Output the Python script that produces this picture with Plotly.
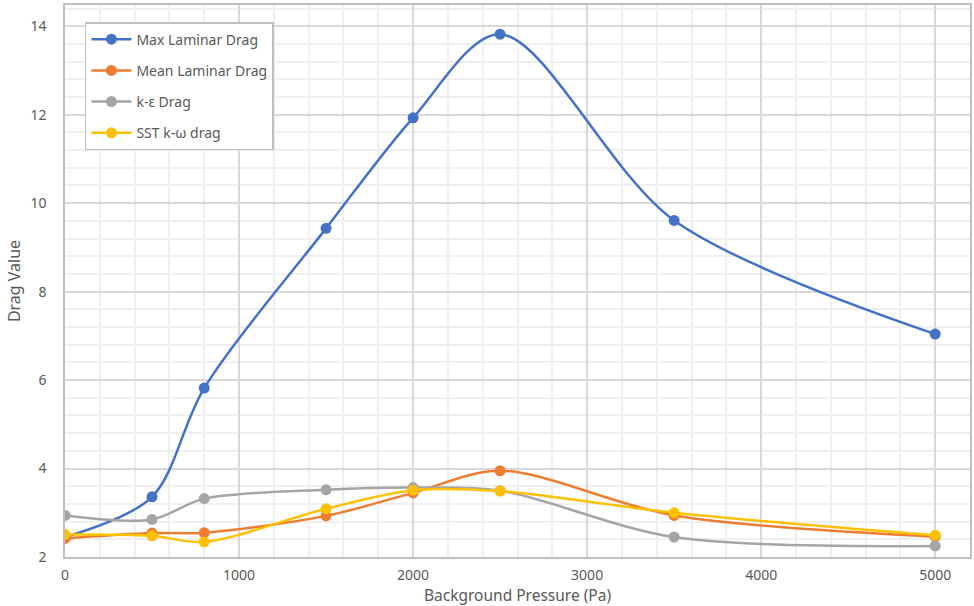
import plotly.graph_objects as go

pressure = [0, 500, 800, 1500, 2000, 2500, 3500, 5000]
max_laminar = [2.45, 3.36, 5.82, 9.43, 11.93, 13.82, 9.61, 7.04]
mean_laminar = [2.42, 2.54, 2.55, 2.93, 3.45, 3.95, 2.94, 2.46]
k_eps = [2.94, 2.85, 3.32, 3.52, 3.57, 3.50, 2.45, 2.25]
sst_kw = [2.51, 2.48, 2.34, 3.09, 3.51, 3.49, 3.00, 2.49]

series = [
    ("Max Laminar Drag", max_laminar, "#4472C4"),
    ("Mean Laminar Drag", mean_laminar, "#ED7D31"),
    ("k-ε Drag", k_eps, "#A5A5A5"),
    ("SST k-ω drag", sst_kw, "#FFC000"),
]

fig = go.Figure()
for i, (name, vals, col) in enumerate(series):
    fig.add_trace(go.Scatter(
        x=pressure, y=vals, name=name, mode="lines+markers",
        line=dict(color=col, width=2.5, shape="spline", smoothing=0.9),
        marker=dict(color=col, size=11),
        legendgroup=f"g{i}",
    ))

font_col = "#595959"
plot_h = 606 - 5 - 49
fig.update_layout(
    width=974, height=606,
    margin=dict(l=65, r=4, t=5, b=49),
    plot_bgcolor="white", paper_bgcolor="white",
    font=dict(family="Noto Sans, Open Sans, sans-serif", size=14, color=font_col),
    showlegend=True,
    legend=dict(
        x=0.022, y=0.969, xanchor="left", yanchor="top",
        bordercolor="#bfbfbf", borderwidth=1.5, bgcolor="white",
        font=dict(size=14, color=font_col), tracegroupgap=10,
        itemwidth=40,
    ),
    xaxis=dict(
        range=[0, 5200], dtick=1000, tick0=0, automargin=False,
        showgrid=True, gridcolor="#d9d9d9", gridwidth=1.5,
        minor=dict(dtick=200, showgrid=True, gridcolor="#efefef", gridwidth=1.5),
        showline=True, linecolor="#bfbfbf", linewidth=1.5, mirror=True,
        zeroline=False, ticks="", tickfont=dict(size=14, color=font_col),
        ticklabelstandoff=4,
    ),
    yaxis=dict(
        range=[2, 14.48], dtick=2, tick0=2, automargin=False,
        showgrid=True, gridcolor="#d9d9d9", gridwidth=1.5,
        minor=dict(dtick=0.4, showgrid=True, gridcolor="#efefef", gridwidth=1.5),
        showline=True, linecolor="#bfbfbf", linewidth=1.5, mirror=True,
        zeroline=False, ticks="", tickfont=dict(size=14, color=font_col),
        ticklabelstandoff=14,
        title=dict(text="Drag Value", font=dict(size=16, color=font_col), standoff=6),
    ),
    annotations=[dict(
        text="Background Pressure (Pa)", xref="paper", yref="paper",
        x=0.5, y=-38 / plot_h, xanchor="center", yanchor="middle",
        showarrow=False, font=dict(size=15.5, color=font_col),
    )],
)

fig.write_html("out.html")
